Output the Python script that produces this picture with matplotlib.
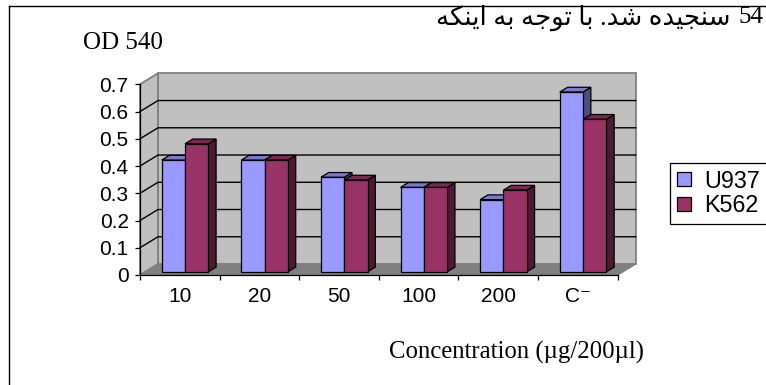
import matplotlib
matplotlib.use("Agg")
import matplotlib.pyplot as plt
from matplotlib.patches import Polygon, Patch
from matplotlib.lines import Line2D

# ---------------- data ----------------
categories = ["10", "20", "50", "100", "200", "C\u207b"]
series_names = ["U937", "K562"]
u937 = [0.41, 0.41, 0.347, 0.31, 0.265, 0.66]
k562 = [0.47, 0.41, 0.337, 0.31, 0.30, 0.56]
yticks = [0, 0.1, 0.2, 0.3, 0.4, 0.5, 0.6, 0.7]
ytick_labels = ["0", "0.1", "0.2", "0.3", "0.4", "0.5", "0.6", "0.7"]
ylabel = "OD 540"
xlabel = "Concentration (\u00b5g/200\u00b5l)"
page_number = "54"
persian_text = ("\u0633\u0646\u062c\u06cc\u062f\u0647 \u0634\u062f. "
                "\u0628\u0627 \u062a\u0648\u062c\u0647 \u0628\u0647 "
                "\u0627\u06cc\u0646\u06a9\u0647")

# ---------------- styles ----------------
front_colors = ["#9999ff", "#993366"]
top_colors = ["#7a7acc", "#7a2952"]
side_colors = ["#4d4d80", "#4d1a33"]
wall_color = "#c0c0c0"
floor_color = "#808080"
edge_gray = "#808080"

SANS = ["Liberation Sans", "DejaVu Sans"]
SERIF = ["Liberation Serif", "DejaVu Serif"]

# ---------------- minimal Persian shaping (presentation forms) ----------------
FORMS = {
    "\u0627": ("\ufe8d", "\ufe8e", None, None),
    "\u0628": ("\ufe8f", "\ufe90", "\ufe91", "\ufe92"),
    "\u062a": ("\ufe95", "\ufe96", "\ufe97", "\ufe98"),
    "\u062c": ("\ufe9d", "\ufe9e", "\ufe9f", "\ufea0"),
    "\u062f": ("\ufea9", "\ufeaa", None, None),
    "\u0633": ("\ufeb1", "\ufeb2", "\ufeb3", "\ufeb4"),
    "\u0634": ("\ufeb5", "\ufeb6", "\ufeb7", "\ufeb8"),
    "\u0646": ("\ufee5", "\ufee6", "\ufee7", "\ufee8"),
    "\u0647": ("\ufee9", "\ufeea", "\ufeeb", "\ufeec"),
    "\u0648": ("\ufeed", "\ufeee", None, None),
    "\u06cc": ("\ufbfc", "\ufbfd", "\ufbfe", "\ufbff"),
    "\u06a9": ("\ufb8e", "\ufb8f", "\ufb90", "\ufb91"),
}


def shape_rtl(s):
    out = []
    for i, ch in enumerate(s):
        if ch not in FORMS:
            out.append(ch)
            continue
        prev = s[i - 1] if i > 0 else None
        nxt = s[i + 1] if i + 1 < len(s) else None
        jp = prev in FORMS and FORMS[prev][2] is not None
        jn = nxt in FORMS and FORMS[ch][2] is not None
        iso, fin, ini, med = FORMS[ch]
        if jp and jn:
            out.append(med)
        elif jp:
            out.append(fin)
        elif jn:
            out.append(ini)
        else:
            out.append(iso)
    return "".join(reversed(out))


# ---------------- figure ----------------
W, H = 766, 385
fig = plt.figure(figsize=(W / 100, H / 100), dpi=100)
fig.patch.set_facecolor("white")

ax = fig.add_axes([140 / W, (H - 275) / H, 477.7 / W, 190.7 / H])
n = len(categories)
ymax = yticks[-1]
ax.set_xlim(0, n)
ax.set_ylim(0, ymax)
ax.patch.set_visible(False)

# depth of the pseudo-3D box (pixels) converted into data units
p0 = ax.transData.transform((0, 0))
p1 = ax.transData.transform((1, ymax))
px_x = p1[0] - p0[0]
px_y = (p1[1] - p0[1]) / ymax
ddx = 18 / px_x
ddy = 11 / px_y


def off(x, y, d):
    return (x + d * ddx, y + d * ddy)


# walls and floor
ax.add_patch(Polygon([off(0, 0, 1), off(n, 0, 1), off(n, ymax, 1), off(0, ymax, 1)],
                     closed=True, fc=wall_color, ec=edge_gray, lw=1.3,
                     clip_on=False, zorder=0.5))
ax.add_patch(Polygon([off(0, 0, 0), off(0, 0, 1), off(0, ymax, 1), off(0, ymax, 0)],
                     closed=True, fc=wall_color, ec=edge_gray, lw=1.3,
                     clip_on=False, zorder=0.5))
ax.add_patch(Polygon([off(0, 0, 0), off(n, 0, 0), off(n, 0, 1), off(0, 0, 1)],
                     closed=True, fc=floor_color, ec=edge_gray, lw=1.0,
                     clip_on=False, zorder=0.55))
for v in yticks[1:-1]:
    xs, ys = zip(off(0, v, 0), off(0, v, 1), off(n, v, 1))
    ax.add_line(Line2D(xs, ys, color="black", lw=1.0, clip_on=False, zorder=0.6))

# bars
bw = 0.293
d0, d1 = 0.29, 0.72
series = [u937, k562]
k = 0
for i in range(n):
    for j, vals in enumerate(series):
        h = vals[i]
        x0 = i + 0.5 - bw + j * bw
        x1 = x0 + bw
        z = 2 + k * 0.01
        k += 1
        ax.add_patch(Polygon([off(x1, 0, d0), off(x1, 0, d1), off(x1, h, d1), off(x1, h, d0)],
                             closed=True, fc=side_colors[j], ec="black", lw=0.9,
                             clip_on=False, zorder=z, joinstyle="miter"))
        ax.add_patch(Polygon([off(x0, h, d0), off(x1, h, d0), off(x1, h, d1), off(x0, h, d1)],
                             closed=True, fc=top_colors[j], ec="black", lw=0.9,
                             clip_on=False, zorder=z, joinstyle="miter"))
        fx, fy = off(x0, 0, d0)
        ax.bar(fx, h, width=bw, bottom=fy, align="edge", color=front_colors[j],
               edgecolor="black", linewidth=0.9, zorder=z + 0.001, clip_on=False)

# axes styling
for s in ["top", "right"]:
    ax.spines[s].set_visible(False)
for s in ["left", "bottom"]:
    ax.spines[s].set_color("black")
    ax.spines[s].set_linewidth(0.9)
    ax.spines[s].set_zorder(3)

ax.set_yticks(yticks)
ax.set_yticklabels(ytick_labels, fontfamily=SANS, fontsize=15)
ax.tick_params(axis="y", direction="out", length=3.6, width=0.9, pad=4.5, colors="black")

ax.set_xticks([i + 0.5 for i in range(n)])
ax.set_xticklabels(categories, fontfamily=SANS, fontsize=15)
ax.set_xticks(range(n + 1), minor=True)
ax.tick_params(axis="x", which="major", length=0, pad=8.5)
ax.tick_params(axis="x", which="minor", direction="out", length=3.6, width=0.9)

# texts
fig.text(83 / W, 1 - 49.3 / H, ylabel, fontfamily=SERIF, fontsize=18,
         ha="left", va="baseline")
fig.text(516.7 / W, 1 - 358.3 / H, xlabel, fontfamily=SERIF, fontsize=17.8,
         ha="center", va="baseline")
fig.text(738 / W, 1 - 23.3 / H, page_number, fontfamily=SERIF, fontsize=18,
         ha="left", va="baseline")
fig.text(730 / W, 1 - 25 / H, shape_rtl(persian_text), fontfamily=SERIF + ["DejaVu Sans"],
         fontsize=18.7, ha="right", va="baseline")

# outer frame of the page region
fig.add_artist(Line2D([9 / W, 1.0], [1 - 6 / H, 1 - 6 / H], color="black", lw=1.0,
                      transform=fig.transFigure))
fig.add_artist(Line2D([9 / W, 9 / W], [0, 1 - 6 / H], color="black", lw=1.0,
                      transform=fig.transFigure))

# legend
handles = [Patch(fc=front_colors[j], ec="black", lw=0.9) for j in range(2)]
leg = fig.legend(handles, series_names, loc="upper left",
                 bbox_to_anchor=(670 / W, 1 - 162.7 / H), bbox_transform=fig.transFigure,
                 borderaxespad=0, frameon=True, fancybox=False, framealpha=1,
                 edgecolor="black", prop={"family": SANS, "size": 16.8},
                 handlelength=0.6, handleheight=0.55, handletextpad=0.55,
                 borderpad=0.3, labelspacing=0.05)
leg.get_frame().set_linewidth(0.9)

fig.savefig("out.png", dpi=100)
